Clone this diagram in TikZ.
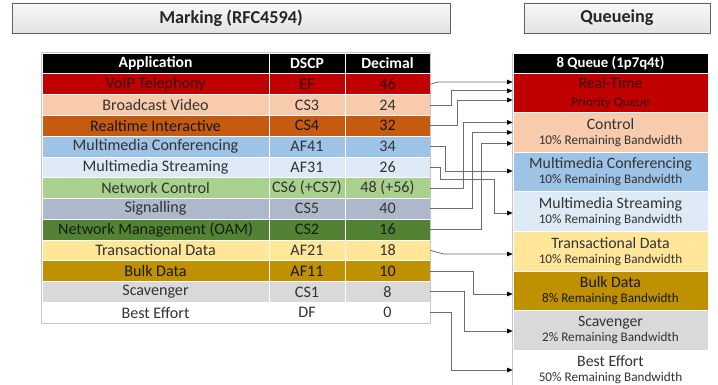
\documentclass[tikz,border=0pt]{standalone}
\usepackage{fontspec}
\setmainfont{Carlito}
\usetikzlibrary{arrows.meta,calc}

% Office-style palette
\definecolor{cRed}{HTML}{C00000}
\definecolor{cPeach}{HTML}{F8CBAD}
\definecolor{cRust}{HTML}{C55A11}
\definecolor{cBlue}{HTML}{9DC3E6}
\definecolor{cPaleBlue}{HTML}{DEEBF7}
\definecolor{cGreen}{HTML}{A9D18E}
\definecolor{cSlate}{HTML}{ADB9CA}
\definecolor{cDkGreen}{HTML}{548235}
\definecolor{cSand}{HTML}{FFE699}
\definecolor{cGold}{HTML}{BF9000}
\definecolor{cGrey}{HTML}{D9D9D9}
\definecolor{cText}{HTML}{333333}
\definecolor{cRedText}{HTML}{3A0000}
\definecolor{cDarkText}{HTML}{14200C}
\definecolor{cLine}{HTML}{6E6E6E}

% Font sizes for the two lines of a queue cell
\newcommand{\qmainsize}{\fontsize{15.8}{17}\selectfont}
\newcommand{\qsubsize}{\fontsize{13.2}{14}\selectfont}

\tikzset{
  titlebox/.style={draw=gray!75!black, line width=0.9pt, top color=gray!6, bottom color=gray!22,
    inner sep=0pt, font=\fontsize{18.2}{20}\selectfont\bfseries, text=black!85},
  cell/.style={draw=white, line width=0.7pt, inner sep=0pt, minimum height=20.77pt,
    font=\fontsize{16.1}{17}\selectfont, text=cText},
  headcell/.style={cell, fill=black, text=white, font=\fontsize{15.6}{17}\selectfont\bfseries},
  qcell/.style={draw=white, line width=0.7pt, inner sep=0pt, minimum width=195pt,
    minimum height=39.6pt, text=cText, align=center},
  qhead/.style={qcell, minimum height=20pt, fill=black, text=white,
    font=\fontsize{14.8}{16}\selectfont\bfseries},
  conn/.style={draw=cLine, line width=0.8pt, -{Triangle[length=5.5pt,width=4.5pt,color=black,fill=black]}},
  frame/.style={draw=gray!45, line width=0.8pt}
}

\begin{document}
\begin{tikzpicture}[x=1pt,y=-1pt]
\useasboundingbox[fill=white] (0,0) rectangle (718,385);

% Section titles
\node[titlebox, minimum width=438pt, minimum height=30pt] (mark) at (231,18) {Marking (RFC4594)};
\node[titlebox, minimum width=186pt, minimum height=30pt] (queue) at (617,18) {Queueing};

% Marking table: header row
\node[headcell, minimum width=227pt] (hApp) at (155.5,63.4) {Application};
\node[headcell, minimum width=76pt]  (hDscp) at (307,63.4) {DSCP};
\node[headcell, minimum width=85pt]  (hDec) at (387.5,63.4) {Decimal};

% Marking table: one row per traffic class
\foreach \i/\app/\dscp/\dec/\fc/\tc in {
  1/VoIP Telephony/EF/46/cRed/cRedText,
  2/Broadcast Video/CS3/24/cPeach/cText,
  3/Realtime Interactive/CS4/32/cRust/black!90,
  4/Multimedia Conferencing/AF41/34/cBlue/cText,
  5/Multimedia Streaming/AF31/26/cPaleBlue/cText,
  6/Network Control/CS6 (+CS7)/48 (+56)/cGreen/cText,
  7/Signalling/CS5/40/cSlate/cText,
  8/Network Management (OAM)/CS2/16/cDkGreen/cDarkText,
  9/Transactional Data/AF21/18/cSand/cText,
  10/Bulk Data/AF11/10/cGold/black!90,
  11/Scavenger/CS1/8/cGrey/cText,
  12/Best Effort/DF/0/white/cText}{
  \pgfmathsetmacro{\yy}{63.4+20.77*\i}
  \node[cell, fill=\fc, text=\tc, minimum width=227pt] (a\i) at (155.5,\yy) {\app};
  \node[cell, fill=\fc, text=\tc, minimum width=76pt]  (s\i) at (307,\yy) {\dscp};
  \node[cell, fill=\fc, text=\tc, minimum width=85pt]  (d\i) at (387.5,\yy) {\dec};
}
\draw[frame] (hApp.north west) rectangle (d12.south east);

% Queueing table
\node[qhead] (qh) at (610.5,63) {8 Queue (1p7q4t)};
\node[qcell, fill=cRed, text=cRedText] (q1) at (610.5,92.8)
  {{\qmainsize Real-Time}\\[6pt]{\qsubsize Priority Queue}};
\node[qcell, fill=cPeach] (q2) at (610.5,132.4)
  {{\qmainsize Control}\\[3pt]{\qsubsize 10\% Remaining Bandwidth}};
\node[qcell, fill=cBlue] (q3) at (610.5,172)
  {{\qmainsize Multimedia Conferencing}\\[3pt]{\qsubsize 10\% Remaining Bandwidth}};
\node[qcell, fill=cPaleBlue] (q4) at (610.5,211.6)
  {{\qmainsize Multimedia Streaming}\\[3pt]{\qsubsize 10\% Remaining Bandwidth}};
\node[qcell, fill=cSand] (q5) at (610.5,251.2)
  {{\qmainsize Transactional Data}\\[3pt]{\qsubsize 10\% Remaining Bandwidth}};
\node[qcell, fill=cGold, text=black!90] (q6) at (610.5,290.8)
  {{\qmainsize Bulk Data}\\[3pt]{\qsubsize 8\% Remaining Bandwidth}};
\node[qcell, fill=cGrey] (q7) at (610.5,330.4)
  {{\qmainsize Scavenger}\\[3pt]{\qsubsize 2\% Remaining Bandwidth}};
\node[qcell, fill=white] (q8) at (610.5,370)
  {{\qmainsize Best Effort}\\[3pt]{\qsubsize 50\% Remaining Bandwidth}};
\draw[frame] (qh.north west) -- (q8.south west);

% Arrow landing points on the queue edge
\coordinate (t1) at ([yshift=10.8pt]q1.west);
\coordinate (t2) at ([yshift=2pt]q1.west);
\coordinate (t3) at ([yshift=-7.2pt]q1.west);
\coordinate (t4) at ([yshift=10pt]q2.west);
\coordinate (t5) at ([yshift=0pt]q2.west);
\coordinate (t6) at ([yshift=-11pt]q2.west);
\coordinate (t7) at ([yshift=1pt]q3.west);
\coordinate (t8) at ([yshift=-1.4pt]q4.west);
\coordinate (t9) at ([yshift=-2.8pt]q5.west);
\coordinate (t10) at ([yshift=-3.2pt]q6.west);
\coordinate (t11) at ([yshift=-0.6pt]q7.west);
\coordinate (t12) at ([yshift=0pt]q8.west);

% Class-to-queue mapping
\draw[conn] (d1.east) -- ++(8,-2.2) -- (t1);
\draw[conn] (d2.east) -- ++(20.7,0) |- (t2);
\draw[conn] (d3.east) -- ++(26.7,0) |- (t3);
\draw[conn] (d6.east) -- ++(32.7,0) |- (t4);
\draw[conn] (d7.east) -- ++(41.7,0) |- (t5);
\draw[conn] (d8.east) -- ++(50.7,0) |- (t6);
\draw[conn] (d4.east) -- ++(15,0) |- (t7);
\draw[conn] (d5.east) -- ++(10,0) -- ++(0,12) -- ++(54,0) |- (t8);
\draw[conn] (d9.east) -- ++(13,3.6) -- (t9);
\draw[conn] (d10.east) -- ++(43.3,0) |- (t10);
\draw[conn] (d11.east) -- ++(34,0) |- (t11);
\draw[conn] (d12.east) -- ++(20.7,0) |- (t12);
\end{tikzpicture}
\end{document}
